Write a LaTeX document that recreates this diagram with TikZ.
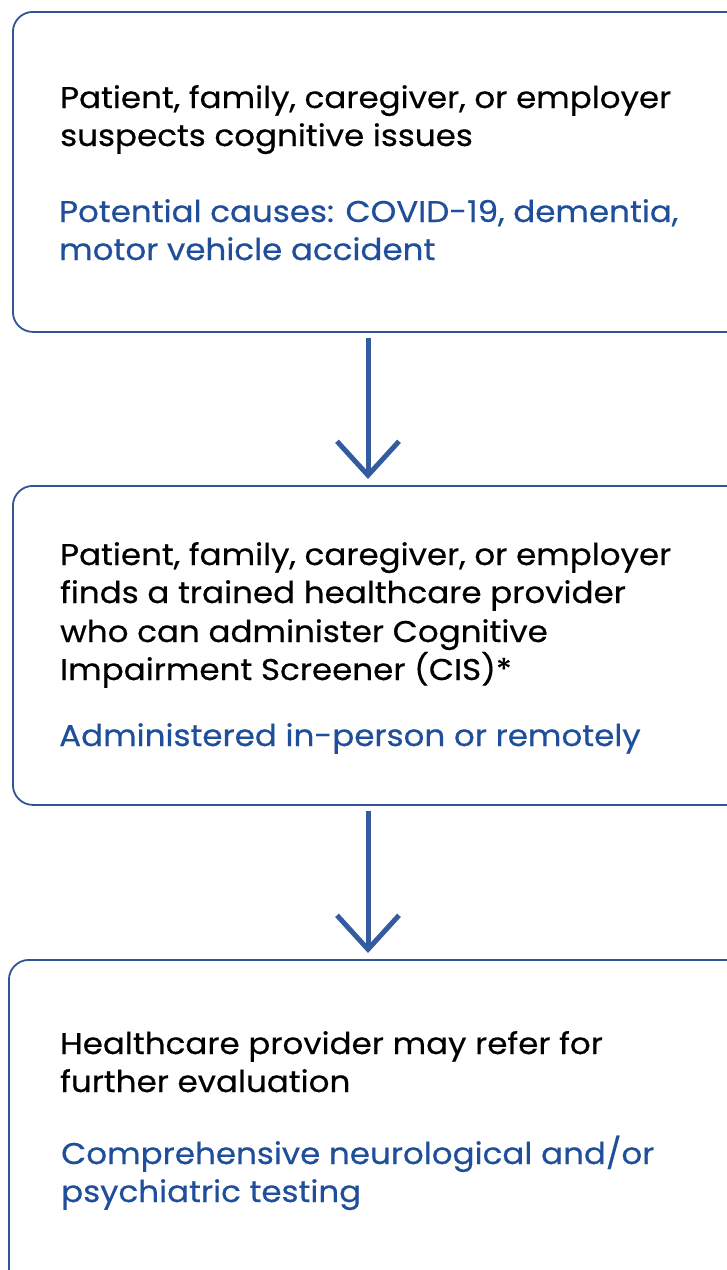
\documentclass[tikz,border=0pt]{standalone}
\usepackage{fontspec}
\setmainfont{Poppins}[FakeStretch=1.085, FakeBold=0.5]
\usetikzlibrary{arrows.meta}
\definecolor{boxblue}{HTML}{2F5597}
\definecolor{textblue}{HTML}{1F4E9B}
\definecolor{arrowblue}{HTML}{345B9F}
\tikzset{
  x=1pt, y=-1pt,
  stepbox/.style={draw=boxblue, line width=1.8pt, rounded corners=20pt, fill=white},
  blk/.style={anchor=base west, inner sep=0pt, text=black, font=\fontsize{30}{38}\selectfont},
  blu/.style={anchor=base west, inner sep=0pt, text=textblue, font=\fontsize{30}{38}\selectfont},
  flow/.style={draw=arrowblue, line width=5pt, -{Straight Barb[length=34pt,width=62pt,line width=5pt]}},
}
\begin{document}
\begin{tikzpicture}
\useasboundingbox (0,0) rectangle (727,1270);
\clip (0,0) rectangle (727,1270);
\node[stepbox, anchor=north west, minimum width=760pt, minimum height=320pt] (box1) at (12,11) {};
\node[stepbox, anchor=north west, minimum width=760pt, minimum height=319pt] (box2) at (12,485) {};
\node[stepbox, anchor=north west, minimum width=764pt, minimum height=360pt] (box3) at (8,959) {};

\node[blk] (t1a) at (60,108) {Patient, family, caregiver, or employer};
\node[blk] (t1b) at (60,146) {suspects cognitive issues};
\node[blu] (t1c) at (59,222) {Potential causes: COVID-19, dementia,};
\node[blu] (t1d) at (59,260) {motor vehicle accident};

\node[blk] (t2a) at (60,565) {Patient, family, caregiver, or employer};
\node[blk] (t2b) at (60,603) {finds a trained healthcare provider};
\node[blk] (t2c) at (60,642) {who can administer Cognitive};
\node[blk] (t2d) at (60,680) {Impairment Screener (CIS)*};
\node[blu] (t2e) at (59,746) {Administered in-person or remotely};

\node[blk] (t3a) at (60,1054) {Healthcare provider may refer for};
\node[blk] (t3b) at (60,1092) {further evaluation};
\node[blu] (t3c) at (61,1164) {Comprehensive neurological and/or};
\node[blu] (t3d) at (61,1202) {psychiatric testing};

\coordinate (ax) at (368,0);
\draw[flow, shorten <=5pt, shorten >=6pt] (box1.south -| ax) -- (box2.north -| ax);
\draw[flow, shorten <=5pt, shorten >=6pt] (box2.south -| ax) -- (box3.north -| ax);
\end{tikzpicture}
\end{document}
